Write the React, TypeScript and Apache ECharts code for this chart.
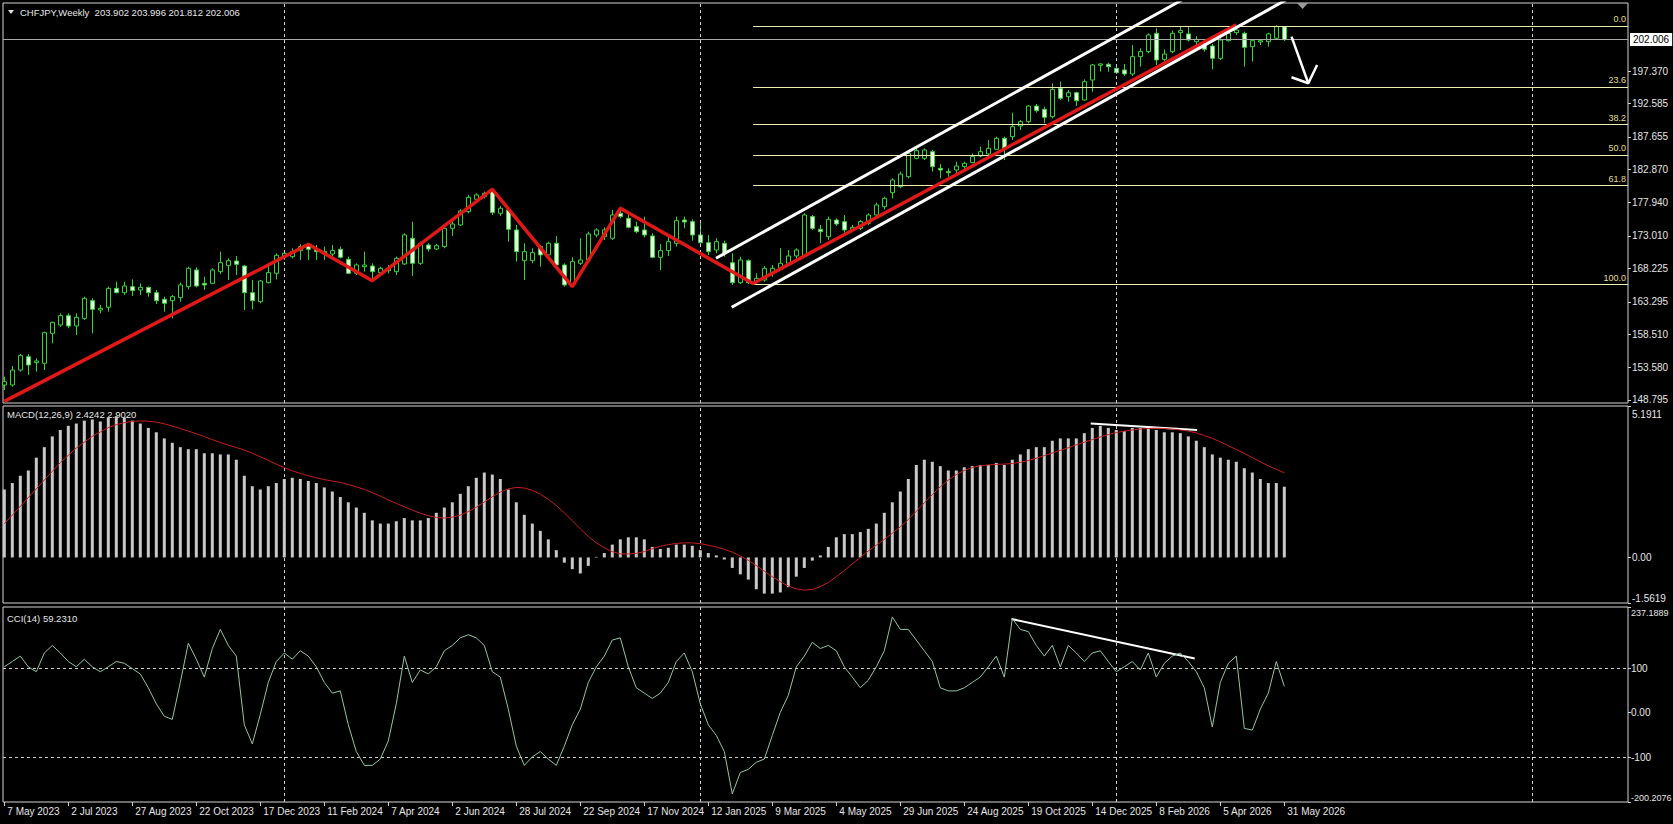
import React, { useEffect, useRef } from "react";
import * as echarts from "echarts";

// ---------- DATA ----------
const dateLabels = [
  "7 May 2023", "2 Jul 2023", "27 Aug 2023", "22 Oct 2023", "17 Dec 2023", "11 Feb 2024", "7 Apr 2024",
  "2 Jun 2024", "28 Jul 2024", "22 Sep 2024", "17 Nov 2024", "12 Jan 2025", "9 Mar 2025", "4 May 2025",
  "29 Jun 2025", "24 Aug 2025", "19 Oct 2025", "14 Dec 2025", "8 Feb 2026", "5 Apr 2026", "31 May 2026",
];

// weekly candles: [open, close, low, high]
const candles: number[][] = [
  [151.01, 151.5, 150.27, 152.24], [151.01, 153.22, 150.76, 153.82], [153.22, 155.34, 152.98, 155.59], [155.19, 153.96, 152.49, 155.59],
  [154.31, 154.55, 152.98, 154.95], [154.21, 158.74, 153.22, 158.89], [158.64, 160.26, 157.16, 160.36], [159.87, 161.25, 159.62, 161.59],
  [161.25, 159.72, 159.38, 161.59], [159.72, 161.0, 158.39, 161.59], [160.85, 163.81, 160.61, 164.05], [163.46, 162.18, 158.64, 163.81],
  [162.08, 162.33, 161.59, 162.82], [162.48, 165.28, 161.84, 165.53], [165.28, 164.64, 164.55, 166.27], [164.64, 165.63, 164.3, 166.27],
  [165.53, 164.94, 164.15, 166.61], [165.04, 165.43, 164.3, 166.02], [165.43, 164.64, 164.05, 165.53], [164.64, 163.46, 162.97, 165.04],
  [163.66, 163.07, 161.84, 164.05], [163.46, 164.05, 160.85, 164.3], [163.91, 165.78, 163.31, 166.12], [165.53, 168.24, 165.14, 168.48],
  [167.99, 165.63, 165.43, 168.38], [166.02, 165.78, 165.04, 167.01], [166.02, 167.99, 165.92, 168.24], [167.74, 169.07, 167.4, 170.7],
  [168.63, 169.37, 166.51, 169.71], [169.32, 168.83, 167.25, 170.06], [168.58, 164.64, 162.08, 168.73], [164.64, 163.46, 162.18, 166.51],
  [163.31, 166.37, 163.07, 166.51], [166.12, 167.6, 166.02, 168.98], [167.5, 170.16, 166.61, 170.45], [169.96, 170.45, 169.47, 170.94],
  [169.96, 170.7, 169.71, 171.19], [170.85, 171.44, 169.47, 171.78], [171.53, 171.04, 169.47, 171.93], [171.04, 170.7, 169.47, 171.68],
  [170.7, 170.45, 169.47, 171.44], [170.35, 170.85, 170.06, 171.68], [171.04, 169.86, 169.71, 171.44], [169.57, 167.5, 167.4, 169.96],
  [167.5, 168.73, 167.25, 168.98], [168.48, 168.73, 167.74, 170.7], [168.58, 167.74, 166.27, 168.98], [167.6, 168.24, 167.25, 168.48],
  [167.89, 168.24, 167.5, 168.73], [167.74, 169.71, 167.25, 169.96], [168.88, 173.16, 168.73, 173.4], [172.67, 168.98, 167.1, 175.13],
  [168.98, 171.93, 168.73, 172.17], [171.68, 171.09, 170.7, 171.93], [171.09, 171.58, 170.94, 171.83], [171.44, 174.14, 171.19, 174.49],
  [174.14, 174.78, 173.01, 175.13], [174.64, 176.7, 174.49, 176.95], [176.6, 178.72, 176.36, 179.07], [178.43, 179.07, 178.23, 179.31],
  [178.82, 179.31, 178.57, 179.56], [179.56, 176.46, 176.11, 179.9], [176.36, 177.1, 175.96, 177.44], [176.85, 174.0, 172.17, 177.1],
  [173.9, 170.7, 169.22, 174.64], [169.37, 170.7, 166.51, 171.93], [169.37, 170.55, 168.98, 171.19], [171.44, 170.21, 168.48, 171.68],
  [170.21, 171.93, 169.96, 172.17], [171.93, 168.73, 168.48, 173.01], [168.73, 165.78, 165.53, 168.98], [165.78, 169.22, 165.43, 169.86],
  [168.98, 169.47, 168.73, 172.67], [169.47, 173.31, 169.22, 173.65], [173.16, 173.9, 172.81, 174.14], [172.91, 173.9, 172.42, 174.29],
  [172.67, 176.11, 172.42, 176.85], [176.36, 175.87, 175.62, 177.34], [175.62, 174.29, 174.14, 176.36], [174.39, 173.65, 173.4, 175.13],
  [173.9, 173.16, 172.81, 175.87], [173.01, 169.86, 169.71, 173.4], [169.86, 170.85, 167.99, 171.83], [170.85, 172.17, 170.06, 172.91],
  [171.93, 175.28, 171.44, 175.87], [175.37, 175.08, 174.14, 175.87], [175.13, 173.16, 172.32, 175.47], [173.16, 172.03, 171.68, 175.37],
  [172.03, 170.7, 170.21, 173.16], [170.94, 172.17, 170.45, 172.67], [171.93, 170.45, 169.96, 172.32], [169.07, 166.12, 165.78, 170.45],
  [166.12, 169.47, 165.92, 169.96], [169.37, 166.12, 165.92, 169.57], [166.27, 166.76, 166.02, 167.5], [166.51, 168.24, 166.27, 168.58],
  [167.5, 168.24, 167.01, 168.73], [168.09, 168.98, 167.89, 171.19], [168.98, 170.06, 168.58, 170.94], [170.06, 170.94, 169.71, 171.19],
  [170.06, 176.11, 169.86, 176.36], [175.87, 174.14, 173.9, 176.11], [174.0, 173.65, 171.93, 174.64], [172.91, 175.47, 172.42, 175.87],
  [175.37, 174.78, 174.49, 175.62], [175.13, 173.9, 173.5, 176.11], [174.0, 174.29, 173.65, 174.64], [174.14, 175.13, 173.9, 175.37],
  [174.88, 176.11, 174.64, 176.36], [176.11, 177.59, 175.86, 177.93], [177.34, 178.57, 176.95, 178.82], [179.41, 181.28, 178.57, 181.52],
  [180.29, 182.16, 180.05, 182.51], [181.77, 185.21, 181.52, 185.46], [184.48, 185.61, 184.33, 185.95], [184.48, 185.71, 184.23, 185.95],
  [185.46, 183.25, 182.51, 185.71], [183.0, 182.75, 181.52, 183.64], [182.51, 182.36, 181.77, 183.0], [182.75, 183.34, 182.26, 183.98],
  [183.25, 183.74, 182.75, 183.98], [183.84, 184.72, 183.74, 185.21], [184.82, 185.46, 184.62, 186.2], [185.12, 185.95, 184.97, 187.18],
  [185.81, 187.43, 185.71, 187.67], [187.43, 185.95, 184.23, 187.67], [187.67, 189.15, 187.18, 191.22], [189.25, 189.89, 188.66, 190.14],
  [189.89, 192.2, 189.65, 192.35], [192.2, 191.51, 191.22, 192.5], [191.71, 190.53, 189.65, 192.1], [190.63, 194.66, 190.38, 195.55],
  [194.81, 193.34, 193.09, 195.8], [193.58, 194.17, 192.84, 194.57], [194.17, 192.99, 192.2, 194.32], [193.09, 195.8, 192.99, 196.14],
  [196.04, 198.26, 194.32, 198.41], [198.21, 198.41, 197.27, 198.5], [198.36, 198.01, 197.27, 198.6], [197.77, 197.13, 196.93, 198.26],
  [197.52, 196.93, 196.63, 198.41], [196.93, 199.49, 196.63, 201.21], [199.49, 200.23, 198.01, 200.72], [200.23, 202.69, 199.98, 202.93],
  [202.93, 199.0, 198.26, 203.67], [199.09, 199.88, 198.75, 200.57], [200.23, 202.93, 199.98, 203.33], [203.03, 203.33, 200.47, 203.92],
  [202.84, 201.95, 201.7, 203.92], [201.7, 202.04, 201.21, 202.54], [201.7, 200.57, 200.23, 202.04], [201.06, 199.24, 197.62, 201.36],
  [199.24, 201.95, 198.99, 202.2], [201.85, 202.93, 201.7, 203.18], [203.03, 203.43, 202.69, 204.02], [202.93, 200.87, 198.01, 203.18],
  [200.97, 201.85, 198.75, 202.04], [201.65, 201.85, 201.21, 202.04], [201.7, 202.84, 200.97, 203.03], [202.2, 203.92, 202.04, 204.12],
  [203.902, 202.006, 201.812, 203.996],
];

const macdHist = [
  2.33, 2.55, 2.8, 2.98, 3.42, 3.78, 4.15, 4.37, 4.51, 4.59, 4.69, 4.73, 4.66, 4.8, 4.84, 4.8, 4.69, 4.59, 4.44, 4.29,
  4.08, 3.93, 3.78, 3.71, 3.71, 3.57, 3.57, 3.53, 3.53, 3.35, 2.8, 2.44, 2.33, 2.44, 2.55, 2.69, 2.73, 2.69, 2.62, 2.55,
  2.4, 2.26, 2.07, 1.89, 1.71, 1.53, 1.27, 1.16, 1.16, 1.24, 1.35, 1.27, 1.27, 1.35, 1.53, 1.71, 1.89, 2.18, 2.44, 2.73,
  2.91, 2.84, 2.69, 2.33, 1.89, 1.46, 1.16, 0.91, 0.62, 0.25, -0.18, -0.4, -0.55, -0.29, 0.02, 0.15, 0.44, 0.62, 0.69, 0.69,
  0.62, 0.36, 0.29, 0.33, 0.44, 0.44, 0.4, 0.25, 0.15, 0.07, -0.07, -0.36, -0.58, -0.76, -1.09, -1.24, -1.24, -1.2, -1.02, -0.66,
  -0.36, -0.11, 0.07, 0.36, 0.69, 0.8, 0.8, 0.87, 0.98, 1.16, 1.53, 1.89, 2.26, 2.69, 3.17, 3.35, 3.28, 3.13, 2.98, 2.98,
  3.09, 3.13, 3.17, 3.17, 3.24, 3.17, 3.35, 3.53, 3.71, 3.78, 3.78, 4.0, 4.08, 4.08, 4.08, 4.26, 4.44, 4.51, 4.44, 4.37,
  4.33, 4.44, 4.44, 4.44, 4.37, 4.29, 4.29, 4.26, 4.15, 4.0, 3.78, 3.53, 3.42, 3.35, 3.28, 3.06, 2.91, 2.69, 2.55, 2.55,
  2.4242,
];

const macdSignal = [
  1.16, 1.45, 1.75, 2.05, 2.35, 2.65, 2.95, 3.25, 3.5, 3.75, 3.95, 4.15, 4.3, 4.45, 4.55,
  4.62, 4.66, 4.68, 4.67, 4.64, 4.58, 4.5, 4.42, 4.33, 4.24, 4.14, 4.04, 3.94, 3.85, 3.77,
  3.68, 3.57, 3.45, 3.33, 3.2, 3.08, 2.97, 2.88, 2.8, 2.73, 2.67, 2.62, 2.57, 2.5, 2.42,
  2.33, 2.22, 2.1, 1.97, 1.85, 1.74, 1.62, 1.52, 1.43, 1.37, 1.35, 1.38, 1.45, 1.57, 1.72,
  1.9, 2.08, 2.24, 2.35, 2.4, 2.38, 2.3, 2.17, 1.99, 1.78, 1.53, 1.26, 0.98, 0.72, 0.5,
  0.33, 0.2, 0.12, 0.12, 0.14, 0.2, 0.3, 0.38, 0.44, 0.48, 0.5, 0.5, 0.47, 0.42, 0.36,
  0.28, 0.18, 0.05, -0.1, -0.28, -0.47, -0.66, -0.83, -0.98, -1.08, -1.12, -1.1, -1.0, -0.86, -0.66,
  -0.45, -0.22, 0.0, 0.22, 0.42, 0.62, 0.83, 1.05, 1.3, 1.58, 1.87, 2.15, 2.42, 2.65, 2.84,
  2.98, 3.08, 3.14, 3.17, 3.19, 3.2, 3.22, 3.26, 3.32, 3.4, 3.49, 3.58, 3.67, 3.76, 3.86,
  3.95, 4.04, 4.13, 4.21, 4.28, 4.33, 4.37, 4.4, 4.42, 4.43, 4.42, 4.4, 4.37, 4.33, 4.27,
  4.18, 4.08, 3.96, 3.83, 3.7, 3.56, 3.42, 3.28, 3.14, 3.02, 2.902,
];

const cci = [
  103, 115, 127, 103, 92, 134, 151, 134, 115, 103, 120, 103, 92, 103, 115, 111, 99, 87, 56, 20,
  -8, -15, 68, 156, 120, 80, 144, 187, 151, 127, -27, -70, -4, 68, 115, 134, 120, 139, 127, 103,
  68, 44, 49, -27, -87, -118, -118, -104, -63, 20, 127, 68, 96, 87, 103, 139, 151, 168, 175, 168,
  151, 92, 80, 8, -75, -118, -99, -87, -104, -118, -75, -27, 8, 68, 103, 127, 163, 168, 103, 56,
  44, 32, 44, 68, 115, 134, 92, 20, -27, -51, -87, -182, -134, -127, -111, -104, -51, 1, 39, 103,
  127, 158, 144, 151, 139, 103, 80, 56, 73, 103, 139, 215, 187, 187, 163, 139, 115, 56, 49, 49,
  56, 68, 80, 103, 127, 80, 211, 187, 182, 151, 127, 151, 103, 151, 134, 115, 134, 139, 115, 92,
  103, 115, 96, 134, 80, 111, 127, 134, 115, 92, 56, -32, 68, 111, 127, -35, -39, 8, 44, 115,
  59.231,
];

// hand-drawn objects, as [bar index, value]
const zigzag = [[0, 148.6], [38, 171.78], [46, 166.41], [61, 179.9], [71, 165.53], [77, 177.1], [93.6, 166.0], [154, 204.2]];
const channelUpper = [[88.96, 169.72], [147.2, 207.85]];
const channelLower = [[90.92, 162.48], [160.2, 207.85]];
const arrowShaft = [[160.9, 202.44], [163.0, 195.56]];
const arrowHead = [[160.9, 196.44], [163.0, 195.56], [164.1, 198.26]];
const fibStart = 93.6;
const fibLevels = [
  { name: "0.0", price: 204.02 },
  { name: "23.6", price: 195.03 },
  { name: "38.2", price: 189.47 },
  { name: "50.0", price: 184.97 },
  { name: "61.8", price: 180.47 },
  { name: "100.0", price: 165.92 },
];
const lastPrice = 202.006;
const gridBars = [35, 87, 139, 191];
const macdTrend = [[135.8, 4.59], [149.1, 4.37]];
const cciTrend = [[125.9, 210.3], [148.8, 121.9]];

const priceTicks = [197.37, 192.585, 187.655, 182.87, 177.94, 173.01, 168.225, 163.295, 158.51, 153.58, 148.795];
const priceMin = 148.352;
const priceMax = 207.41;
const macdMin = -1.5619;
const macdMax = 5.1911;
const cciMin = -200.2076;
const cciMax = 237.1889;
const cciLevels = [100, -100];

const XMIN = -0.1625;
const XMAX = 202.9625;

const FONT = "Liberation Sans";
const TXT = "#e6e6e6";
const BORDER = "#d4d4d4";
const GREEN = "#3fcf3f";

export default function App() {
  const ref = useRef<HTMLDivElement>(null);

  useEffect(() => {
    document.body.style.margin = "0";
    document.body.style.background = "#000";
    const chart = echarts.init(ref.current!, undefined, { renderer: "svg" });

    const dateIdx = dateLabels.map((_, k) => k * 8);
    const vLines = () =>
      gridBars.map((x) => ({
        xAxis: x,
        lineStyle: { color: "#cfcfcf", type: [3, 3], width: 1 },
        label: { show: false },
      }));
    const segLine = (pts: number[][], color: string, width: number) => [
      { coord: pts[0], lineStyle: { color, width, type: "solid" }, label: { show: false } },
      { coord: pts[1] },
    ];

    const grids = [
      { left: 3, top: 3, width: 1625, height: 400 },
      { left: 3, top: 406, width: 1625, height: 197 },
      { left: 3, top: 607, width: 1625, height: 195 },
    ].map((g) => ({
      ...g,
      show: true,
      borderColor: BORDER,
      borderWidth: 1,
      backgroundColor: "transparent",
      containLabel: false,
      outerBoundsMode: "none",
    }));

    const xAxes = [0, 1, 2].map((g) => ({
      type: "value",
      gridIndex: g,
      min: XMIN,
      max: XMAX,
      position: "bottom",
      axisLine: { show: false, onZero: false },
      splitLine: { show: false },
      axisTick:
        g === 2
          ? { show: true, customValues: dateIdx, length: 4, lineStyle: { color: BORDER } }
          : { show: false },
      axisLabel:
        g === 2
          ? {
              show: true,
              customValues: dateIdx,
              formatter: (v: number) => dateLabels[Math.round(v / 8)] ?? "",
              align: "left",
              padding: [0, 0, 0, 3],
              margin: 4,
              color: TXT,
              fontSize: 10,
              fontFamily: FONT,
            }
          : { show: false },
    }));

    const labelBase = { color: TXT, fontSize: 10, fontFamily: FONT, margin: 4 };
    const small = { color: TXT, fontSize: 9, fontFamily: FONT };
    const yAxes = [
      {
        type: "value",
        gridIndex: 0,
        position: "right",
        min: priceMin,
        max: priceMax,
        axisLine: { show: false, onZero: false },
        splitLine: { show: false },
        axisTick: { show: true, customValues: priceTicks, length: 3, lineStyle: { color: BORDER } },
        axisLabel: { ...labelBase, customValues: priceTicks, formatter: (v: number) => v.toFixed(3) },
      },
      {
        type: "value",
        gridIndex: 1,
        position: "right",
        min: macdMin,
        max: macdMax,
        axisLine: { show: false, onZero: false },
        splitLine: { show: false },
        axisTick: { show: true, customValues: [macdMax, 0, macdMin], length: 3, lineStyle: { color: BORDER } },
        axisLabel: {
          ...labelBase,
          customValues: [macdMax, 0, macdMin],
          formatter: (v: number) =>
            Math.abs(v - macdMax) < 1e-6 ? `{t|${macdMax}}` : Math.abs(v - macdMin) < 1e-6 ? `{b|${macdMin}}` : "0.00",
          rich: {
            t: { ...labelBase, padding: [16, 0, 0, 0] },
            b: { ...labelBase, padding: [0, 0, 10, 0] },
          },
        },
      },
      {
        type: "value",
        gridIndex: 2,
        position: "right",
        min: cciMin,
        max: cciMax,
        axisLine: { show: false, onZero: false },
        splitLine: { show: false },
        axisTick: { show: true, customValues: [cciMax, 100, 0, -100, cciMin], length: 3, lineStyle: { color: BORDER } },
        axisLabel: {
          ...labelBase,
          margin: 3,
          customValues: [cciMax, 100, 0, -100, cciMin],
          formatter: (v: number) =>
            Math.abs(v - cciMax) < 1e-6
              ? `{t|${cciMax}}`
              : Math.abs(v - cciMin) < 1e-6
              ? `{b|${cciMin}}`
              : v === 0
              ? "0.00"
              : String(Math.round(v)),
          rich: {
            t: { ...small, padding: [12, 0, 0, 0] },
            b: { ...small, padding: [0, 0, 8, 0] },
          },
        },
      },
    ];

    const lineSeries = (data: number[][], color: string, width: number, g = 0) => ({
      type: "line",
      xAxisIndex: g,
      yAxisIndex: g,
      data,
      symbol: "none",
      silent: true,
      lineStyle: { color, width },
      z: 5,
    });

    const option: any = {
      animation: false,
      backgroundColor: "#000",
      grid: grids,
      xAxis: xAxes,
      yAxis: yAxes,
      series: [
        {
          type: "candlestick",
          xAxisIndex: 0,
          yAxisIndex: 0,
          data: candles.map((c, i) => [i, c[0], c[1], c[2], c[3]]),
          encode: { x: 0, y: [1, 2, 3, 4] },
          barWidth: 5,
          itemStyle: { color: "#000", color0: "#e4fbe4", borderColor: GREEN, borderColor0: GREEN, borderWidth: 1 },
          markLine: {
            silent: true,
            symbol: ["none", "none"],
            animation: false,
            data: [
              ...vLines(),
              {
                yAxis: lastPrice,
                lineStyle: { color: "#a8a8a8", width: 1, type: "solid" },
                label: {
                  show: true,
                  position: "end",
                  formatter: lastPrice.toFixed(3),
                  backgroundColor: "#fff",
                  color: "#000",
                  padding: [2, 3, 1, 3],
                  fontSize: 10,
                  fontFamily: FONT,
                  distance: 2,
                },
              },
              ...fibLevels.map((f) => [
                {
                  coord: [fibStart, f.price],
                  lineStyle: { color: "#eeeeb4", width: 1, type: "solid" },
                  label: {
                    show: true,
                    position: "insideEndTop",
                    formatter: f.name,
                    color: "#e2dc96",
                    fontSize: 9,
                    fontFamily: FONT,
                    distance: 2,
                  },
                },
                { coord: [XMAX, f.price] },
              ]),
            ],
          },
        },
        lineSeries(zigzag, "#e01818", 3.5),
        lineSeries(channelUpper, "#ffffff", 3),
        lineSeries(channelLower, "#ffffff", 3),
        lineSeries(arrowShaft, "#ffffff", 2.5),
        lineSeries(arrowHead, "#ffffff", 2.5),
        {
          type: "bar",
          xAxisIndex: 1,
          yAxisIndex: 1,
          data: macdHist.map((v, i) => [i, v]),
          barWidth: 3,
          itemStyle: { color: "#c8c8c8" },
          silent: true,
          markLine: {
            silent: true,
            symbol: ["none", "none"],
            animation: false,
            data: [...vLines(), segLine(macdTrend, "#ffffff", 2)],
          },
        },
        lineSeries(macdSignal.map((v, i) => [i, v]), "#c81e1e", 1, 1),
        {
          ...lineSeries(cci.map((v, i) => [i, v]), "#93c4a2", 1, 2),
          markLine: {
            silent: true,
            symbol: ["none", "none"],
            animation: false,
            data: [
              ...vLines(),
              ...cciLevels.map((l) => ({
                yAxis: l,
                lineStyle: { color: "#cfcfcf", type: [3, 3], width: 1 },
                label: { show: false },
              })),
              segLine(cciTrend, "#ffffff", 2),
            ],
          },
        },
      ],
      graphic: [
        { type: "polygon", shape: { points: [[8, 10], [14, 10], [11, 14]] }, style: { fill: "#e0e0e0" } },
        {
          type: "text",
          x: 20,
          y: 12,
          style: {
            text: "CHFJPY,Weekly  203.902 203.996 201.812 202.006",
            fill: TXT,
            fontSize: 9.5,
            fontFamily: FONT,
            verticalAlign: "middle",
          },
        },
        {
          type: "text",
          x: 7,
          y: 414,
          style: { text: "MACD(12,26,9) 2.4242 2.9020", fill: TXT, fontSize: 9.5, fontFamily: FONT, verticalAlign: "middle" },
        },
        {
          type: "text",
          x: 7,
          y: 618,
          style: { text: "CCI(14) 59.2310", fill: TXT, fontSize: 9.5, fontFamily: FONT, verticalAlign: "middle" },
        },
        { type: "polygon", shape: { points: [[1297, 3], [1308, 3], [1302.5, 9]] }, style: { fill: "#9a9a9a" } },
      ],
    };

    chart.setOption(option);
    return () => chart.dispose();
  }, []);

  return <div ref={ref} style={{ width: 1673, height: 824, background: "#000" }} />;
}
